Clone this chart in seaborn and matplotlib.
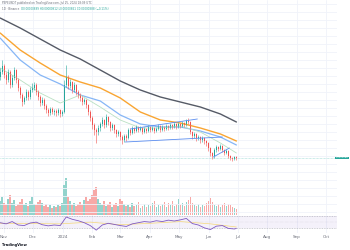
import numpy as np
import pandas as pd
import matplotlib
matplotlib.use("Agg")
import matplotlib.pyplot as plt
import matplotlib.transforms as mtransforms
import matplotlib.dates as mdates
from matplotlib.ticker import MultipleLocator
import seaborn as sns

# ---------------- data ----------------
first_open = 143
closes = [148, 154, 145, 140, 148, 135, 142, 150, 140, 132,
          125, 118, 122, 128, 123, 130, 132, 135, 128, 123,
          117, 120, 114, 110, 107, 111, 108, 109, 107, 110,
          106, 108, 135, 142, 134, 138, 130, 135, 128, 125,
          122, 118, 120, 115, 108, 102, 95, 90, 88, 92,
          96, 100, 95, 103, 98, 92, 95, 90, 86, 88,
          83, 80, 84, 82, 90, 87, 92, 89, 93, 90,
          92, 88, 91, 89, 93, 90, 92, 89, 91, 94,
          90, 93, 91, 94, 92, 95, 93, 96, 93, 96,
          94, 97, 95, 99, 98, 88, 84, 86, 82, 83,
          80, 82, 79, 77, 72, 67, 64, 70, 73, 71,
          74, 70, 67, 69, 64, 62, 61, 63, 62]
highs = [152, 160, 156, 148, 151, 150, 145, 153, 151, 142,
         134, 127, 124, 131, 130, 133, 137, 138, 137, 130,
         125, 123, 122, 116, 112, 113, 113, 111, 111, 112,
         111, 110, 140, 155, 145, 141, 139, 138, 136, 130,
         127, 124, 122, 121, 116, 110, 104, 97, 92, 95,
         98, 103, 101, 106, 104, 99, 97, 96, 91, 90,
         89, 85, 86, 86, 92, 92, 94, 93, 95, 94,
         94, 93, 93, 92, 95, 94, 94, 93, 93, 96,
         95, 95, 94, 96, 95, 97, 96, 98, 97, 98,
         97, 99, 98, 101, 102, 99, 89, 88, 87, 85,
         84, 84, 83, 80, 78, 73, 68, 72, 75, 74,
         76, 75, 71, 71, 70, 65, 63, 64, 64]
lows = [140, 146, 142, 136, 138, 132, 133, 140, 137, 129,
        122, 114, 116, 120, 120, 121, 128, 130, 125, 120,
        114, 115, 111, 107, 104, 105, 106, 105, 104, 105,
        103, 104, 107, 133, 131, 132, 127, 128, 125, 122,
        119, 115, 116, 112, 105, 99, 91, 85, 77, 85,
        89, 94, 92, 93, 95, 89, 90, 87, 83, 84,
        80, 76, 78, 79, 81, 85, 86, 87, 88, 88,
        89, 86, 87, 87, 88, 88, 89, 87, 88, 90,
        88, 89, 89, 90, 90, 91, 91, 92, 91, 92,
        92, 93, 93, 94, 96, 86, 81, 82, 79, 80,
        77, 78, 76, 74, 69, 64, 61, 62, 68, 69,
        70, 68, 65, 66, 62, 60, 59, 60, 60]
volumes = [14, 18, 12, 10, 16, 20, 12, 15, 9, 11,
           13, 16, 10, 12, 9, 14, 18, 11, 10, 13,
           15, 12, 9, 11, 8, 10, 7, 9, 8, 10,
           9, 12, 30, 37, 18, 14, 10, 12, 9, 11,
           13, 10, 15, 18, 14, 16, 20, 25, 28, 16,
           12, 10, 14, 9, 11, 13, 8, 10, 12, 9,
           16, 14, 11, 9, 10, 8, 12, 9, 10, 13,
           7, 9, 11, 8, 10, 9, 12, 14, 8, 10,
           9, 11, 13, 8, 12, 10, 14, 9, 11, 16,
           10, 12, 9, 13, 15, 18, 12, 10, 9, 11,
           8, 10, 9, 12, 14, 17, 13, 10, 9, 11,
           8, 10, 12, 9, 11, 10, 8, 7, 6]

ma_idx = [0, 10, 20, 30, 40, 50, 60, 70, 80, 90, 100, 110, 118]
ma200 = [202, 192, 181, 170, 161, 150, 139, 130, 123, 118, 113, 106, 98]
ma100 = [187, 170, 157, 145, 138, 132, 122, 108, 100, 97, 92, 86, 79]
ma50 = [182, 160, 145, 136, 125, 119, 105, 96, 93, 93, 89, 83, 75]
ma20 = [152, 140, 127, 117, 125, 113, 100, 92, 92, 94, 88, 77, 67]

rsi_idx = list(range(0, 118, 3)) + [118]
rsi_vals = [48, 44, 52, 40, 38, 47, 50, 41, 37, 40,
            38, 68, 60, 55, 48, 38, 22, 40, 46, 42,
            38, 35, 44, 48, 52, 50, 55, 52, 57, 54,
            58, 63, 45, 40, 30, 24, 36, 38, 28, 26, 28]
rsi_ma_idx = [0, 15, 30, 45, 60, 75, 90, 105, 118]
rsi_ma = [46, 45, 44, 50, 41, 46, 52, 44, 33]

trend_i0 = [62.5, 65, 106.5]
trend_i1 = [111, 98.5, 114.5]
trend_p0 = [78, 91, 63]
trend_p1 = [83, 101, 72]

month_dates = ["2023-11-01", "2023-12-01", "2024-01-01", "2024-02-01",
               "2024-03-01", "2024-04-01", "2024-05-01", "2024-06-01",
               "2024-07-01", "2024-08-01", "2024-09-01", "2024-10-01"]
month_labels = ["Nov", "Dec", "2024", "Feb", "Mar", "Apr", "May", "Jun",
                "Jul", "Aug", "Sep", "Oct"]

header1 = "PEPEUSDT published on TradingView.com, Jul 25, 2024 18:09 UTC"
header2a = "1D · Binance"
header2b = "O0.00000889 H0.00000912 L0.00000861 C0.00000888 (−0.11%)"
last_label = "0.0000088"

# ---------------- styling ----------------
sns.set_style("white")
plt.rcParams["font.family"] = ["DejaVu Sans"]

UP = "#26a69a"
DN = "#ef5350"
UP_V = "#92d3cc"
DN_V = "#f7a9a7"
GRID = "#f0f3fa"

n = len(closes)
opens = [first_open] + closes[:-1]
start = pd.Timestamp("2023-10-28")
step_h = 50
dates = mdates.date2num(start + pd.to_timedelta(np.arange(n) * step_h, unit="h"))
day_w = step_h / 24.0

def idx_to_date(i):
    return mdates.date2num(start + pd.to_timedelta(np.asarray(i, dtype=float) * step_h, unit="h"))

x_left = mdates.date2num(pd.Timestamp("2023-11-01")) - 4.16
x_right = mdates.date2num(pd.Timestamp("2023-11-01")) + 346.5

fig = plt.figure(figsize=(3.5, 2.5), dpi=100)
fig.patch.set_facecolor("white")

W = 337 / 350
ax_v = fig.add_axes([0, 35 / 250, W, 215 / 250])
ax_p = fig.add_axes([0, 35 / 250, W, 215 / 250], sharex=ax_v)
ax_r = fig.add_axes([0, 17 / 250, W, 18 / 250], sharex=ax_v)
ax_p.patch.set_alpha(0)

for a in (ax_v, ax_p, ax_r):
    for s in a.spines.values():
        s.set_visible(False)
    a.tick_params(length=0)

mticks = mdates.date2num(pd.to_datetime(month_dates))

# grid on the bottom layer
ax_v.set_xticks(mticks)
ax_v.grid(True, axis="x", color=GRID, lw=0.6)
ax_v.set_yticks([])
ax_v.tick_params(labelbottom=False, labelleft=False)

# volume
vcol = [UP_V if c >= o else DN_V for o, c in zip(opens, closes)]
ax_v.bar(dates, volumes, width=day_w * 0.8, color=vcol, linewidth=0)
ax_v.set_ylim(0, max(volumes) * 215 / 37)
ax_v.set_xlim(x_left, x_right)

# price pane
ax_p.set_ylim(5, 220)
ax_p.yaxis.set_major_locator(MultipleLocator(8))
ax_p.grid(True, axis="y", color=GRID, lw=0.6)
ax_p.tick_params(labelbottom=False, labelleft=False)

ax_p.axhline(closes[-1], color="#9ad8d2", lw=0.5, ls=(0, (1, 1)))

sns.lineplot(x=idx_to_date(ma_idx), y=ma200, ax=ax_p, color="#555a66", lw=1.0)
sns.lineplot(x=idx_to_date(ma_idx), y=ma100, ax=ax_p, color="#f9a532", lw=1.0)
sns.lineplot(x=idx_to_date(ma_idx), y=ma50, ax=ax_p, color="#86b6f6", lw=0.9)
sns.lineplot(x=idx_to_date(ma_idx), y=ma20, ax=ax_p, color="#b9e0c3", lw=0.6)

ccol = [UP if c >= o else DN for o, c in zip(opens, closes)]
ax_p.vlines(dates, lows, highs, colors=ccol, lw=0.4)
body_h = [max(abs(c - o), 0.4) for o, c in zip(opens, closes)]
body_b = [min(o, c) for o, c in zip(opens, closes)]
ax_p.bar(dates, body_h, bottom=body_b, width=day_w * 0.62, color=ccol, linewidth=0)

for i0, i1, p0, p1 in zip(trend_i0, trend_i1, trend_p0, trend_p1):
    ax_p.plot(idx_to_date([i0, i1]), [p0, p1], color="#5b8def", lw=0.6)

trans = mtransforms.blended_transform_factory(fig.transFigure, ax_p.transData)
ax_p.text(0.996, closes[-1], last_label, transform=trans, ha="right", va="center",
          fontsize=1.7, color="white",
          bbox=dict(boxstyle="square,pad=0.3", fc=UP, ec="none"), clip_on=False)
ax_p.set_xlim(x_left, x_right)

# RSI pane
ax_r.axhspan(30, 70, color="#7e57c2", alpha=0.08, lw=0)
for lvl in (30, 70):
    ax_r.axhline(lvl, color="#9a9aa8", lw=0.4, ls=(0, (1.5, 1.5)))
ax_r.axhline(50, color="#c0c0cc", lw=0.3, ls=(0, (1, 2)))
sns.lineplot(x=idx_to_date(rsi_ma_idx), y=rsi_ma, ax=ax_r, color="#f5d77a", lw=0.5)
sns.lineplot(x=idx_to_date(rsi_idx), y=rsi_vals, ax=ax_r, color="#7e57c2", lw=0.6)
ax_r.set_ylim(12, 75)
ax_r.set_yticks([])
ax_r.set_xticks(mticks)
ax_r.set_xticklabels(month_labels, fontsize=3, color="#6a6d78")
ax_r.tick_params(axis="x", pad=1.5)
ax_r.grid(True, axis="x", color=GRID, lw=0.6)
ax_r.set_xlim(x_left, x_right)
for a in (ax_v, ax_p, ax_r):
    a.set_xlabel("")
    a.set_ylabel("")

# header / footer text
fig.text(2 / 350, 1 - 3 / 250, header1, fontsize=2.0, color="#6a6d78", va="center", ha="left")
t2a = fig.text(2 / 350, 1 - 8.5 / 250, header2a, fontsize=2.0, color="#6a6d78",
               va="center", ha="left")
ax_p.annotate(header2b, xy=(1, 0.5), xycoords=t2a, xytext=(1.5, 0),
              textcoords="offset points", fontsize=2.0, color=UP,
              va="center", ha="left", annotation_clip=False)
fig.text(2 / 350, 5 / 250, "TradingView", fontsize=2.6, color="#131722", va="center", ha="left",
         fontweight="bold")

fig.savefig("out.png", dpi=100, facecolor="white")
